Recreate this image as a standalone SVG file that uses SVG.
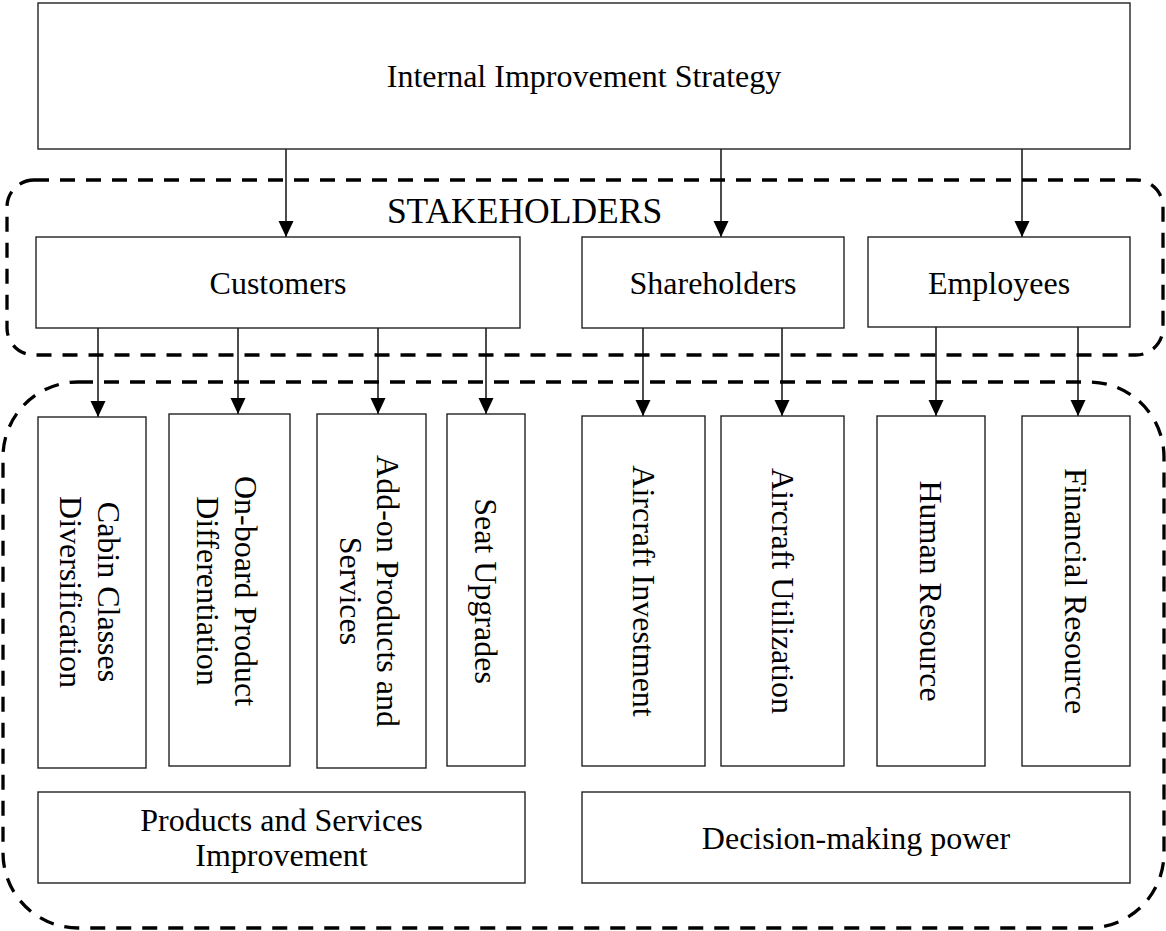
<svg xmlns="http://www.w3.org/2000/svg" width="1166" height="931" viewBox="0 0 1166 931">
  <style>
    .box { fill: #ffffff; stroke: #222222; stroke-width: 1.4; }
    .grp { fill: none; stroke: #000000; stroke-width: 3.3; stroke-dasharray: 15 11; }
    .lbl { font-family: "Liberation Serif", "Times New Roman", serif; font-size: 32px; fill: #000000; text-anchor: middle; }
    .conn { stroke: #000000; stroke-width: 1.4; fill: none; marker-end: url(#arrow); }
  </style>
  <defs>
    <marker id="arrow" markerUnits="userSpaceOnUse" markerWidth="17" markerHeight="16" refX="16" refY="7.5" orient="auto">
      <path d="M0,0 L16,7.5 L0,15 z" fill="#000000"/>
    </marker>
  </defs>
  <rect width="1166" height="931" fill="#ffffff"/>

  <g id="group-stakeholders">
    <rect class="grp" x="7" y="180" width="1156" height="175" rx="27" ry="27"/>
    <text class="lbl" x="524.5" y="223" style="font-size:35.5px">STAKEHOLDERS</text>
  </g>
  <g id="group-outcomes">
    <rect class="grp" x="3" y="382" width="1161" height="546" rx="75" ry="75"/>
  </g>

  <g id="connectors">
    <line class="conn" x1="286" y1="149" x2="286" y2="237"/>
    <line class="conn" x1="721" y1="149" x2="721" y2="237"/>
    <line class="conn" x1="1022" y1="149" x2="1022" y2="237"/>
    <line class="conn" x1="98" y1="328" x2="98" y2="417"/>
    <line class="conn" x1="238" y1="328" x2="238" y2="414"/>
    <line class="conn" x1="378" y1="328" x2="378" y2="414"/>
    <line class="conn" x1="486" y1="328" x2="486" y2="414"/>
    <line class="conn" x1="643" y1="328" x2="643" y2="416"/>
    <line class="conn" x1="782" y1="328" x2="782" y2="416"/>
    <line class="conn" x1="936" y1="327" x2="936" y2="416"/>
    <line class="conn" x1="1078" y1="327" x2="1078" y2="416"/>
  </g>

  <g id="node-strategy">
    <rect class="box" x="38" y="3" width="1092" height="146"/>
    <text class="lbl" x="584" y="87">Internal Improvement Strategy</text>
  </g>
  <g id="node-customers">
    <rect class="box" x="36" y="237" width="484" height="91"/>
    <text class="lbl" x="278" y="294">Customers</text>
  </g>
  <g id="node-shareholders">
    <rect class="box" x="582" y="237" width="262" height="91"/>
    <text class="lbl" x="713" y="294">Shareholders</text>
  </g>
  <g id="node-employees">
    <rect class="box" x="868" y="237" width="262" height="90"/>
    <text class="lbl" x="999" y="294">Employees</text>
  </g>

  <g id="node-cabin">
    <rect class="box" x="38" y="417" width="108" height="351"/>
    <text class="lbl" transform="translate(92,592) rotate(90)"><tspan x="0" y="-5.5">Cabin Classes</tspan><tspan x="0" y="32">Diversification</tspan></text>
  </g>
  <g id="node-onboard">
    <rect class="box" x="169" y="414" width="121" height="352"/>
    <text class="lbl" transform="translate(229.5,591) rotate(90)"><tspan x="0" y="-5.5">On-board Product</tspan><tspan x="0" y="32.5">Differentiation</tspan></text>
  </g>
  <g id="node-addon">
    <rect class="box" x="317" y="414" width="109" height="354"/>
    <text class="lbl" transform="translate(371.5,591) rotate(90)"><tspan x="0" y="-5.5">Add-on Products and</tspan><tspan x="0" y="31.5">Services</tspan></text>
  </g>
  <g id="node-seat">
    <rect class="box" x="447" y="414" width="78" height="352"/>
    <text class="lbl" transform="translate(486,591) rotate(90)" y="11">Seat Upgrades</text>
  </g>
  <g id="node-investment">
    <rect class="box" x="582" y="416" width="123" height="350"/>
    <text class="lbl" transform="translate(643.5,591) rotate(90)" y="11">Aircraft Investment</text>
  </g>
  <g id="node-utilization">
    <rect class="box" x="721" y="416" width="123" height="350"/>
    <text class="lbl" transform="translate(782.5,591) rotate(90)" y="11">Aircraft Utilization</text>
  </g>
  <g id="node-human">
    <rect class="box" x="877" y="416" width="108" height="350"/>
    <text class="lbl" transform="translate(931,591) rotate(90)" y="11">Human Resource</text>
  </g>
  <g id="node-financial">
    <rect class="box" x="1022" y="416" width="108" height="350"/>
    <text class="lbl" transform="translate(1076,591) rotate(90)" y="11">Financial Resource</text>
  </g>

  <g id="node-products">
    <rect class="box" x="38" y="792" width="487" height="91"/>
    <text class="lbl" x="281.5" y="831">Products and Services</text>
    <text class="lbl" x="281.5" y="866">Improvement</text>
  </g>
  <g id="node-decision">
    <rect class="box" x="582" y="792" width="548" height="91"/>
    <text class="lbl" x="856" y="849">Decision-making power</text>
  </g>
</svg>
